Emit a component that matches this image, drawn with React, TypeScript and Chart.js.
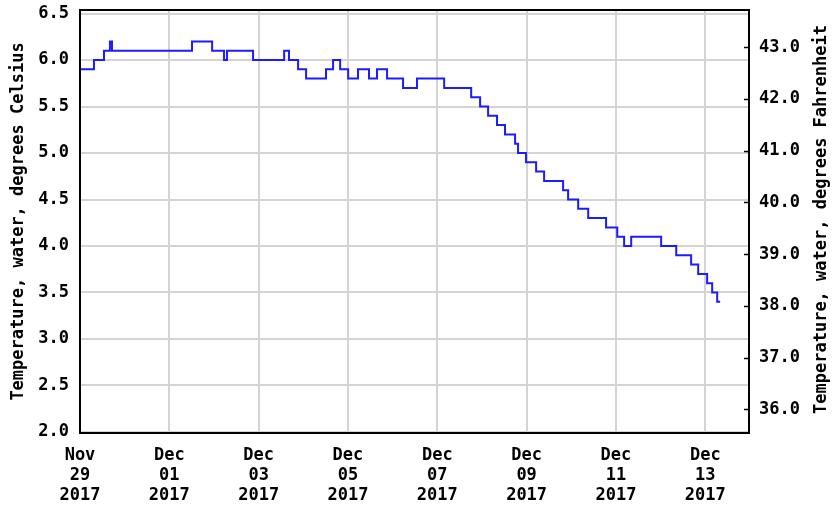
import React, { useEffect, useRef } from 'react';
import { Chart, registerables } from 'chart.js';

Chart.register(...registerables);

// Hours since 2017-11-29 00:00 at which each reading begins (step data)
const hoursSinceStart = [
  0, 7.5, 12.9, 16.1, 17.2, 60.2, 71.0, 77.4, 79.0, 93.0,
  109.7, 112.3, 117.2, 121.5, 132.2, 136.0, 139.8, 144.1, 149.4, 155.3,
  159.6, 165.0, 173.6, 181.1, 195.7, 210.2, 215.0, 219.3, 224.1, 228.4,
  233.8, 235.4, 239.7, 245.1, 249.4, 259.6, 262.3, 267.7, 273.1, 282.7,
  288.7, 292.4, 296.2, 312.3, 320.4, 328.4, 332.2, 337.0, 339.7, 342.4,
  344.0,
];
// Water temperature, degrees Celsius
const tempCelsius = [
  5.9, 6.0, 6.1, 6.2, 6.1, 6.2, 6.1, 6.0, 6.1, 6.0,
  6.1, 6.0, 5.9, 5.8, 5.9, 6.0, 5.9, 5.8, 5.9, 5.8,
  5.9, 5.8, 5.7, 5.8, 5.7, 5.6, 5.5, 5.4, 5.3, 5.2,
  5.1, 5.0, 4.9, 4.8, 4.7, 4.6, 4.5, 4.4, 4.3, 4.2,
  4.1, 4.0, 4.1, 4.0, 3.9, 3.8, 3.7, 3.6, 3.5, 3.4,
  3.4,
];

const xRangeHours = [0, 359.5];
const xTickStepHours = 48;
const celsiusRange = [1.989, 6.538];
const celsiusStep = 0.5;
const fahrenheitRange = [35.54, 43.72];
const fahrenheitStep = 1;
const monthNames = ['Jan', 'Feb', 'Mar', 'Apr', 'May', 'Jun', 'Jul', 'Aug', 'Sep', 'Oct', 'Nov', 'Dec'];
const startUTC = Date.UTC(2017, 10, 29);
const leftTitle = 'Temperature, water, degrees Celsius';
const rightTitle = 'Temperature, water, degrees Fahrenheit';

const FONT_FAMILY = '"DejaVu Sans Mono", monospace';
const FONT_SIZE = 17;

function xLabel(v: number): string[] {
  const d = new Date(startUTC + v * 3600 * 1000);
  const day = String(d.getUTCDate()).padStart(2, '0');
  return [monthNames[d.getUTCMonth()], day, String(d.getUTCFullYear())];
}

const framePlugin = {
  id: 'framePlugin',
  afterDatasetsDraw(chart: any) {
    const { ctx, chartArea } = chart;
    const { left, right, top, bottom } = chartArea;
    ctx.save();
    ctx.strokeStyle = '#000';
    ctx.lineWidth = 2;
    ctx.strokeRect(left, top, right - left, bottom - top);
    const y2 = chart.scales.y2;
    ctx.lineWidth = 1.5;
    y2.ticks.forEach((t: any) => {
      const y = Math.round(y2.getPixelForValue(t.value)) + 0.5;
      ctx.beginPath();
      ctx.moveTo(right - 5, y);
      ctx.lineTo(right, y);
      ctx.stroke();
    });
    ctx.translate(822, (top + bottom) / 2 - 2);
    ctx.rotate(-Math.PI / 2);
    ctx.font = `bold ${FONT_SIZE}px ${FONT_FAMILY}`;
    ctx.textAlign = 'center';
    ctx.textBaseline = 'middle';
    ctx.fillStyle = '#000';
    ctx.fillText(rightTitle, 0, 0);
    ctx.restore();
  },
};

export default function App() {
  const canvasRef = useRef<HTMLCanvasElement | null>(null);

  useEffect(() => {
    const canvas = canvasRef.current;
    if (!canvas) return;
    const font = { family: FONT_FAMILY, size: FONT_SIZE, weight: 'bold' as const };
    const points = hoursSinceStart.map((h, i) => ({ x: h, y: tempCelsius[i] }));
    const chart = new Chart(canvas, {
      type: 'line',
      data: {
        datasets: [
          {
            data: points,
            borderColor: '#1c1cff',
            borderWidth: 2,
            pointRadius: 0,
            stepped: true,
            fill: false,
            yAxisID: 'y',
          },
        ],
      },
      options: {
        responsive: false,
        maintainAspectRatio: false,
        animation: false,
        devicePixelRatio: 1,
        layout: { padding: { top: 10, left: 0, right: 0, bottom: 0 } },
        plugins: { legend: { display: false }, tooltip: { enabled: false } },
        scales: {
          x: {
            type: 'linear',
            min: xRangeHours[0],
            max: xRangeHours[1],
            border: { display: false },
            grid: { color: '#d4d4d4', lineWidth: 2, drawTicks: false },
            ticks: {
              stepSize: xTickStepHours,
              includeBounds: false,
              autoSkip: false,
              maxRotation: 0,
              minRotation: 0,
              padding: 12,
              color: '#000',
              font,
              callback: (v: any) => xLabel(Number(v)),
            },
            afterFit: (s: any) => {
              s.height = 73;
              s.paddingLeft = 0;
              s.paddingRight = 0;
            },
          },
          y: {
            type: 'linear',
            position: 'left',
            min: celsiusRange[0],
            max: celsiusRange[1],
            border: { display: false },
            grid: { color: '#d4d4d4', lineWidth: 2, drawTicks: false },
            ticks: {
              stepSize: celsiusStep,
              includeBounds: false,
              padding: 11,
              color: '#000',
              font,
              callback: (v: any) => Number(v).toFixed(1),
            },
            title: {
              display: true,
              text: leftTitle,
              color: '#000',
              font,
              padding: { top: 8, bottom: 0 },
            },
            afterFit: (s: any) => {
              s.width = 80;
              s.paddingTop = 0;
              s.paddingBottom = 0;
            },
          },
          y2: {
            type: 'linear',
            position: 'right',
            min: fahrenheitRange[0],
            max: fahrenheitRange[1],
            border: { display: false },
            grid: { display: false, drawTicks: false },
            ticks: {
              stepSize: fahrenheitStep,
              includeBounds: false,
              padding: 10,
              color: '#000',
              font,
              callback: (v: any) => Number(v).toFixed(1),
            },
            afterFit: (s: any) => {
              s.width = 83;
              s.paddingTop = 0;
              s.paddingBottom = 0;
            },
          },
        },
      },
      plugins: [framePlugin],
    });
    return () => chart.destroy();
  }, []);

  return (
    <div style={{ position: 'absolute', left: 0, top: 0, width: 832, height: 506, background: '#fff' }}>
      <canvas ref={canvasRef} width={832} height={506} style={{ display: 'block' }} />
    </div>
  );
}
